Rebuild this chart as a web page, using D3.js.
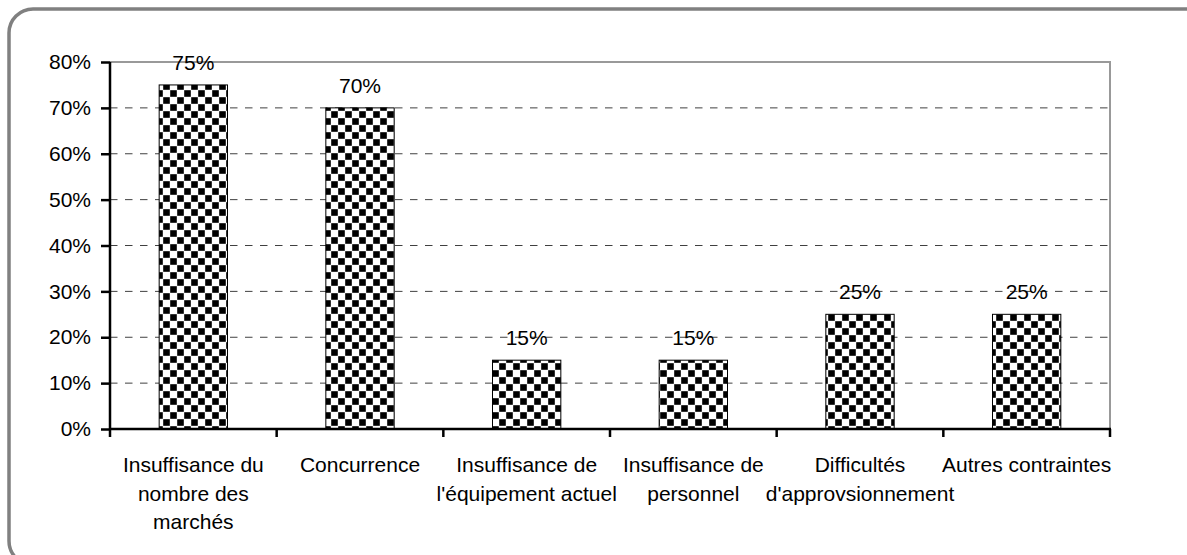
<!DOCTYPE html>
<html>
<head>
<meta charset="utf-8">
<script src="https://cdn.jsdelivr.net/npm/d3@7"></script>
<style>
  body { margin: 0; background: #fff; }
  svg { display: block; font-family: "Liberation Sans", Arial, sans-serif; }
</style>
</head>
<body>
<div id="chart"></div>
<script>
var categories = ['c1', 'c2', 'c3', 'c4', 'c5', 'c6'];
var labels = [
    ['Insuffisance du', 'nombre des', 'marchés'],
    ['Concurrence'],
    ['Insuffisance de', "l'équipement actuel"],
    ['Insuffisance de', 'personnel'],
    ['Difficultés', "d'approvsionnement"],
    ['Autres contraintes']
];
var values = [0.75, 0.70, 0.15, 0.15, 0.25, 0.25];
var yTicks = [0, 0.1, 0.2, 0.3, 0.4, 0.5, 0.6, 0.7, 0.8];

var W = 1187, H = 555;
var margin = {top: 62, right: 77, bottom: 126, left: 110},
    width = W - margin.left - margin.right,
    height = H - margin.top - margin.bottom;

var svg = d3.select('#chart')
    .append('svg')
        .attr('width', W)
        .attr('height', H);

// outer frame, runs off the right and bottom edges
svg.append('rect')
    .attr('x', 9).attr('y', 9)
    .attr('width', 1200).attr('height', 556)
    .attr('rx', 24).attr('ry', 24)
    .attr('fill', 'none')
    .attr('stroke', '#808080')
    .attr('stroke-width', 3.5);

// checker fill
var P = 14, S = 6.6;
var pat = svg.append('defs').append('pattern')
    .attr('id', 'checker')
    .attr('patternUnits', 'userSpaceOnUse')
    .attr('x', 158).attr('y', 84)
    .attr('width', P).attr('height', P);
pat.append('rect').attr('width', P).attr('height', P).attr('fill', '#fff');
pat.append('rect').attr('x', 0.2).attr('y', 0.2).attr('width', S).attr('height', S).attr('fill', '#000');
pat.append('rect').attr('x', P / 2 + 0.2).attr('y', P / 2 + 0.2).attr('width', S).attr('height', S).attr('fill', '#000');

var g = svg.append('g')
    .attr('transform', 'translate(' + margin.left + ',' + margin.top + ')');

var x = d3.scaleBand()
    .domain(categories)
    .range([0, width]);

var y = d3.scaleLinear()
    .domain([0, 0.8])
    .range([height, 0]);

// grid
g.selectAll('.grid')
    .data(yTicks.filter(d => d > 0 && d < 0.8))
    .enter().append('line')
        .attr('x1', 0).attr('x2', width)
        .attr('y1', d => y(d)).attr('y2', d => y(d))
        .attr('stroke', '#404040')
        .attr('stroke-width', 1)
        .attr('stroke-dasharray', '7.5,7.5');

// plot area border (top and right)
g.append('path')
    .attr('d', 'M0,' + y(0.8) + 'H' + width + 'V' + height)
    .attr('fill', 'none')
    .attr('stroke', '#999')
    .attr('stroke-width', 2);

var barW = x.bandwidth() * 0.41;

g.selectAll('.bar')
    .data(values)
    .enter().append('rect')
        .attr('x', (d, i) => x(categories[i]) + (x.bandwidth() - barW) / 2)
        .attr('y', d => y(d))
        .attr('width', barW)
        .attr('height', d => height - y(d))
        .attr('fill', 'url(#checker)')
        .attr('stroke', '#000')
        .attr('stroke-width', 1);

g.selectAll('.val')
    .data(values)
    .enter().append('text')
        .attr('x', (d, i) => x(categories[i]) + x.bandwidth() / 2)
        .attr('y', d => y(d) - 15)
        .attr('text-anchor', 'middle')
        .attr('font-size', 21)
        .text(d => Math.round(d * 100) + '%');

// y axis
var yAxis = g.append('g')
    .call(d3.axisLeft(y).tickValues(yTicks).tickSize(9).tickPadding(10)
        .tickFormat(d => Math.round(d * 100) + '%'));
yAxis.select('.domain').attr('stroke', '#000').attr('stroke-width', 2.5)
    .attr('d', 'M0,' + y(0.8) + 'V' + (height + 1));
yAxis.selectAll('.tick line').attr('stroke', '#000').attr('stroke-width', 2.5);
yAxis.selectAll('.tick text').attr('font-size', 21).attr('fill', '#000')
    .attr('font-family', '"Liberation Sans", Arial, sans-serif');

// x axis
var xAxis = g.append('g')
    .attr('transform', 'translate(0,' + height + ')')
    .call(d3.axisBottom(x).tickSize(0).tickFormat(''));
xAxis.select('.domain').attr('stroke', '#000').attr('stroke-width', 2.5)
    .attr('d', 'M-1,0H' + (width + 1));

var bounds = categories.map(c => x(c)).concat([width]);
xAxis.selectAll('.bound')
    .data(bounds)
    .enter().append('line')
        .attr('x1', d => d).attr('x2', d => d)
        .attr('y1', 0).attr('y2', 8)
        .attr('stroke', '#000')
        .attr('stroke-width', 2.5);

xAxis.selectAll('.tick').each(function(d, i) {
    var t = d3.select(this).append('text')
        .attr('fill', '#000')
        .attr('font-size', 21)
        .attr('font-family', '"Liberation Sans", Arial, sans-serif')
        .attr('text-anchor', 'middle');
    labels[i].forEach((line, k) => {
        t.append('tspan')
            .attr('x', 0)
            .attr('y', 43 + k * 28.5)
            .text(line);
    });
});
</script>
</body>
</html>
